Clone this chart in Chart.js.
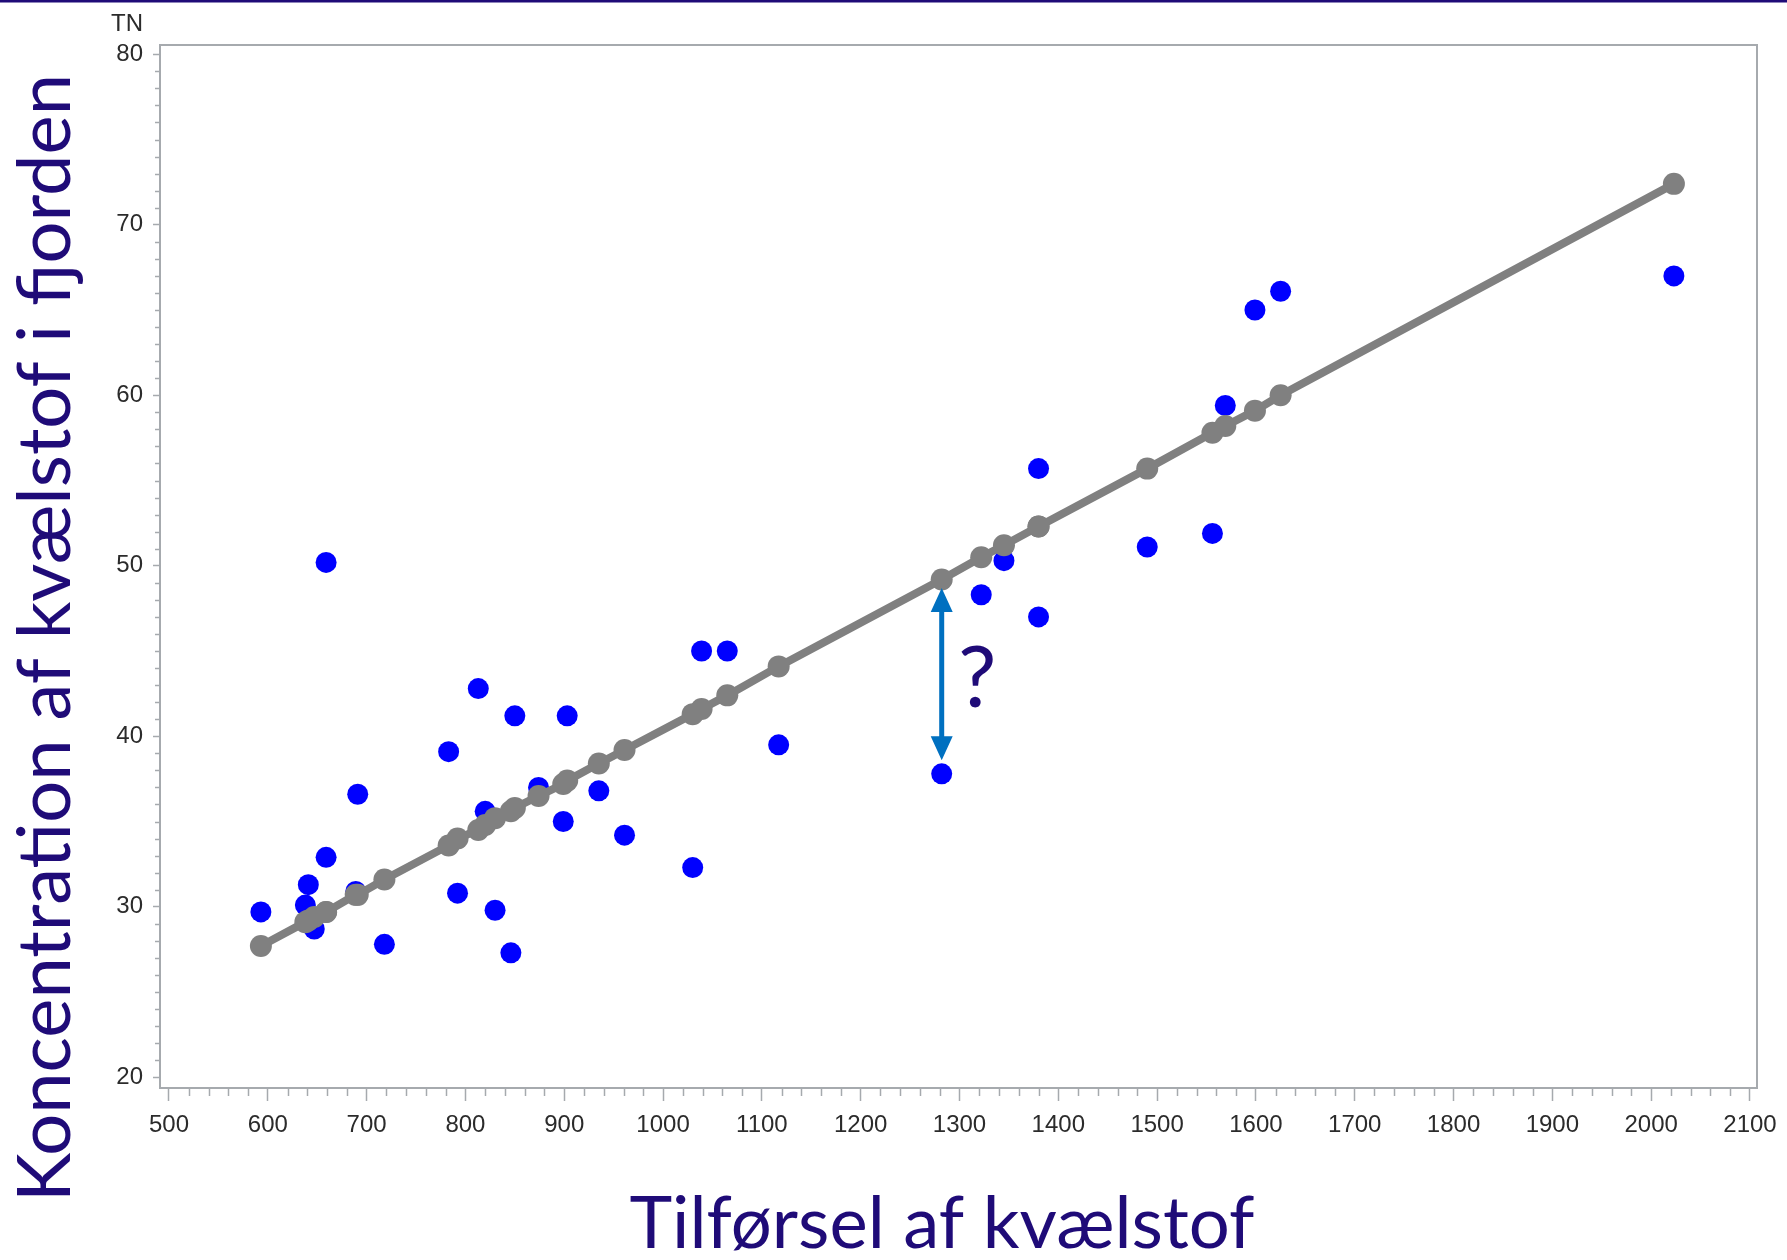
<!DOCTYPE html>
<html>
<head>
<meta charset="utf-8">
<title>Tilførsel af kvælstof</title>
<script src="https://cdn.jsdelivr.net/npm/chart.js@4.4.1/dist/chart.umd.min.js"></script>
<style>
  html, body { margin: 0; padding: 0; background: #fff; }
</style>
</head>
<body>
<canvas id="tnChart" width="1787" height="1260"></canvas>
<script>

// ########################
// ###      DATA        ###
// ########################
// nitrogen supply, one entry per year (sorted)
const supply = [593, 638, 641, 647, 659, 659, 689, 691, 718, 783, 792, 813,
                820, 830, 846, 850, 874, 899, 903, 935, 961, 1030, 1039, 1065,
                1117, 1282, 1322, 1345, 1380, 1380, 1490, 1556, 1569, 1599, 1625, 2023];
// measured concentration in the fjord (blue dots)
const measured = [29.7, 30.1, 31.3, 28.7, 32.9, 50.2, 30.9, 36.6, 27.8, 39.1, 30.8, 42.8,
                  35.6, 29.8, 27.3, 41.2, 37.0, 35.0, 41.2, 36.8, 34.2, 32.3, 45.0, 45.0,
                  39.5, 37.8, 48.3, 50.3, 55.7, 47.0, 51.1, 51.9, 59.4, 65.0, 66.1, 67.0];
// values on the fitted line (grey dots)
const fitted = [27.7, 29.1, 29.2, 29.4, 29.7, 29.7, 30.7, 30.7, 31.6, 33.6, 34.0, 34.5,
                34.8, 35.2, 35.6, 35.8, 36.5, 37.2, 37.4, 38.4, 39.2, 41.3, 41.6, 42.4,
                44.1, 49.2, 50.5, 51.2, 52.3, 52.3, 55.7, 57.8, 58.2, 59.1, 60.0, 72.4];

const xTicks = [500, 600, 700, 800, 900, 1000, 1100, 1200, 1300, 1400,
                1500, 1600, 1700, 1800, 1900, 2000, 2100];
const yTicks = [20, 30, 40, 50, 60, 70, 80];

// the "?" residual marked with an arrow
const gapX = 1282;
const gapFrom = 48.7;
const gapTo = 38.6;

// ########################
// ###     STYLES       ###
// ########################
const navy = '#1f0b78';
const frameGrey = '#a6aaae';
const labelColor = '#2b2b2b';
const arrowBlue = '#0070c0';
const titleFont = 'Lato, "Noto Sans", sans-serif';
const tickFont = { family: '"Liberation Sans", Arial, sans-serif', size: 24 };

// fit a text to a given width, return font size
function fitSize(ctx, text, width, family) {
  ctx.font = '100px ' + family;
  return 100 * width / ctx.measureText(text).width;
}

// extra drawing: frame, minor ticks, titles, arrow
const decorPlugin = {
  id: 'decor',
  beforeDraw(chart) {
    const ctx = chart.ctx;
    ctx.save();
    ctx.fillStyle = '#fff';
    ctx.fillRect(0, 0, chart.width, chart.height);
    ctx.fillStyle = navy;
    ctx.fillRect(0, 0, chart.width, 2.5);
    ctx.restore();
  },
  beforeDatasetsDraw(chart) {
    const ctx = chart.ctx;
    const a = chart.chartArea;
    const xs = chart.scales.x, ys = chart.scales.y;
    ctx.save();
    ctx.strokeStyle = frameGrey;
    ctx.lineWidth = 2;
    ctx.strokeRect(a.left, a.top, a.right - a.left, a.bottom - a.top);

    // minor ticks
    ctx.lineWidth = 1.5;
    ctx.beginPath();
    for (let v = xTicks[0]; v <= xTicks[xTicks.length - 1]; v += 20) {
      if (v % 100 === 0) continue;
      const px = Math.round(xs.getPixelForValue(v)) + 0.5;
      ctx.moveTo(px, a.bottom);
      ctx.lineTo(px, a.bottom + 8);
    }
    for (let v = yTicks[0]; v <= yTicks[yTicks.length - 1]; v += 1) {
      if (v % 10 === 0) continue;
      const py = Math.round(ys.getPixelForValue(v)) + 0.5;
      ctx.moveTo(a.left - 5, py);
      ctx.lineTo(a.left, py);
    }
    ctx.stroke();

    // unit label above the y axis
    ctx.fillStyle = labelColor;
    ctx.font = tickFont.size + 'px ' + tickFont.family;
    ctx.textAlign = 'right';
    ctx.textBaseline = 'middle';
    ctx.fillText('TN', 143, 24);
    ctx.restore();
  },
  afterDatasetsDraw(chart) {
    const ctx = chart.ctx;
    const xs = chart.scales.x, ys = chart.scales.y;
    const ax = xs.getPixelForValue(gapX);
    const top = ys.getPixelForValue(gapFrom);
    const bot = ys.getPixelForValue(gapTo);
    const head = 24, hw = 22;
    ctx.save();
    ctx.strokeStyle = arrowBlue;
    ctx.fillStyle = arrowBlue;
    ctx.lineWidth = 5;
    ctx.beginPath();
    ctx.moveTo(ax, top + head - 2);
    ctx.lineTo(ax, bot - head + 2);
    ctx.stroke();
    ctx.beginPath();
    ctx.moveTo(ax, top);
    ctx.lineTo(ax - hw / 2, top + head);
    ctx.lineTo(ax + hw / 2, top + head);
    ctx.closePath();
    ctx.moveTo(ax, bot);
    ctx.lineTo(ax - hw / 2, bot - head);
    ctx.lineTo(ax + hw / 2, bot - head);
    ctx.closePath();
    ctx.fill();

    ctx.fillStyle = navy;
    ctx.font = '86px ' + titleFont;
    ctx.textAlign = 'center';
    ctx.textBaseline = 'alphabetic';
    ctx.fillText('?', xs.getPixelForValue(1318), ys.getPixelForValue(41.7));
    ctx.restore();
  },
  afterDraw(chart) {
    const ctx = chart.ctx;
    const xTitle = 'Tilførsel af kvælstof';
    const yTitle = 'Koncentration af kvælstof i fjorden';
    ctx.save();
    ctx.fillStyle = navy;
    ctx.textAlign = 'center';
    ctx.textBaseline = 'alphabetic';
    ctx.font = fitSize(ctx, xTitle, 625, titleFont) + 'px ' + titleFont;
    ctx.fillText(xTitle, 942, 1248);

    ctx.translate(70, 638);
    ctx.rotate(-Math.PI / 2);
    ctx.font = fitSize(ctx, yTitle, 1128, titleFont) + 'px ' + titleFont;
    ctx.fillText(yTitle, 0, 0);
    ctx.restore();
  }
};

// ########################
// ###      CHART       ###
// ########################
const data = {
  datasets: [
    {
      label: 'Fitted',
      data: supply.map((s, i) => ({ x: s, y: fitted[i] })),
      showLine: true,
      borderColor: '#808080',
      backgroundColor: '#808080',
      borderWidth: 8,
      pointRadius: 11,
      pointBorderWidth: 0,
      order: 0
    },
    {
      label: 'TN',
      data: supply.map((s, i) => ({ x: s, y: measured[i] })),
      backgroundColor: '#0000ff',
      borderColor: '#0000ff',
      pointRadius: 10.5,
      pointBorderWidth: 0,
      order: 1
    }
  ]
};

const config = {
  type: 'scatter',
  data: data,
  plugins: [decorPlugin],
  options: {
    responsive: false,
    animation: false,
    layout: { padding: { top: 45, right: 30, left: 0, bottom: 0 } },
    plugins: {
      legend: { display: false },
      tooltip: { enabled: false }
    },
    scales: {
      x: {
        type: 'linear',
        min: 490.9,
        max: 2107.1,
        afterFit: (scale) => { scale.height = 172; },
        afterBuildTicks: (scale) => { scale.ticks = xTicks.map(v => ({ value: v })); },
        border: { display: false },
        grid: {
          drawOnChartArea: false,
          tickLength: 13,
          tickWidth: 1.5,
          tickColor: frameGrey
        },
        ticks: {
          autoSkip: false,
          maxRotation: 0,
          padding: 10,
          color: labelColor,
          font: tickFont,
          callback: (v) => String(v)
        }
      },
      y: {
        type: 'linear',
        min: 19.372,
        max: 80.545,
        afterFit: (scale) => { scale.width = 160; },
        afterBuildTicks: (scale) => { scale.ticks = yTicks.map(v => ({ value: v })); },
        border: { display: false },
        grid: {
          drawOnChartArea: false,
          tickLength: 7,
          tickWidth: 1.5,
          tickColor: frameGrey
        },
        ticks: {
          padding: 10,
          color: labelColor,
          font: tickFont,
          callback: (v) => String(v)
        }
      }
    }
  }
};

const tnChart = new Chart(document.getElementById('tnChart'), config);
</script>
</body>
</html>
